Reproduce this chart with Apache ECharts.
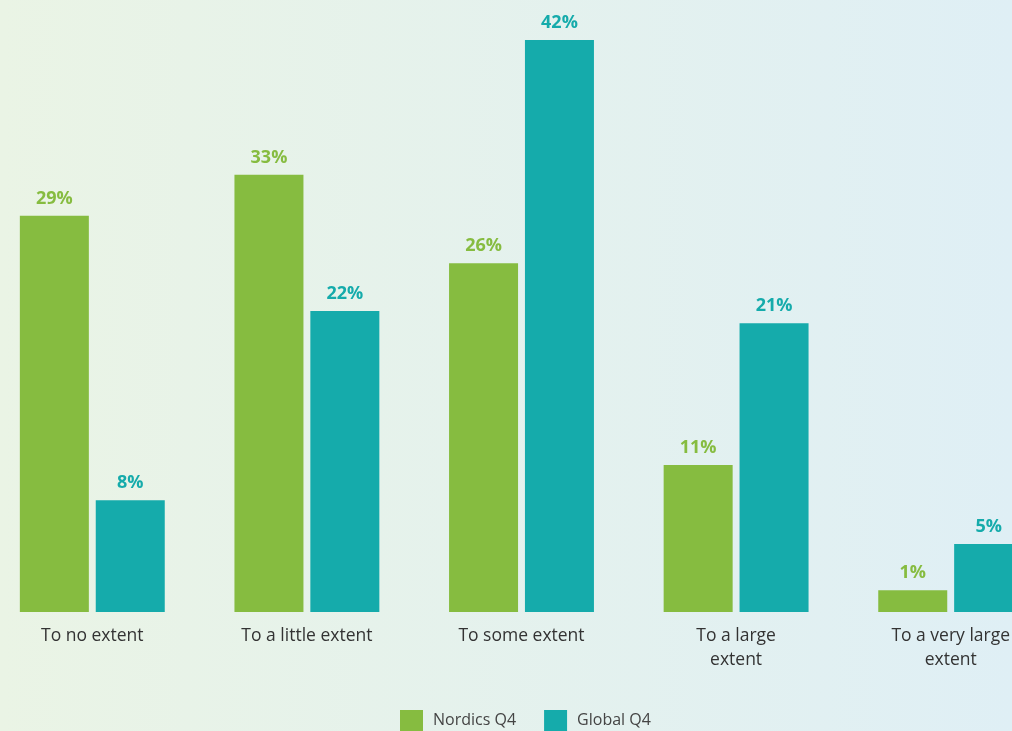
<!DOCTYPE html>
<html>
<head>
<meta charset="utf-8">
<title>Extent chart</title>
<script src="https://cdn.jsdelivr.net/npm/echarts@6/dist/echarts.min.js"></script>
<style>
  html, body { margin: 0; padding: 0; }
  #chart { width: 1012px; height: 731px; }
</style>
</head>
<body>
<div id="chart"></div>
<script>
// categories and values (bar heights, labels as printed)
const categories = ['To no extent', 'To a little extent', 'To some extent', 'To a large\nextent', 'To a very large\nextent']
const nordicsQ4 = [29.1, 32.1, 25.6, 10.8, 1.6]
const globalQ4 = [8.2, 22.1, 42, 21.2, 5]
const nordicsLabels = ['29%', '33%', '26%', '11%', '1%']
const globalLabels = ['8%', '22%', '42%', '21%', '5%']

const GREEN = '#86bc40'
const TEAL = '#15abab'
const FONT = 'Open Sans'

const chart = echarts.init(document.getElementById('chart'))

const labelFor = (texts, color) => ({
  show: true,
  position: 'top',
  distance: 8,
  color: color,
  fontFamily: FONT,
  fontWeight: 'bold',
  fontSize: 18,
  formatter: (p) => texts[p.dataIndex]
})

chart.setOption({
  backgroundColor: new echarts.graphic.LinearGradient(0, 0, 1, 0, [
    { offset: 0, color: '#eaf4e5' },
    { offset: 1, color: '#dfeff5' }
  ]),
  textStyle: { fontFamily: FONT },
  animation: false,
  legend: {
    top: 705,
    left: 395,
    itemWidth: 23,
    itemHeight: 21,
    itemGap: 28,
    icon: 'rect',
    textStyle: { fontFamily: FONT, fontSize: 16, color: '#444', padding: [0, 0, 0, 5] },
    data: ['Nordics Q4', 'Global Q4']
  },
  // the plot runs past the right edge, the last pair is cut off like in the source
  grid: {
    left: -15,
    width: 1073,
    top: 40,
    bottom: 119,
    containLabel: false,
    outerBoundsMode: 'none'
  },
  xAxis: {
    type: 'category',
    data: categories,
    axisLine: { show: false },
    axisTick: { show: false },
    axisLabel: {
      margin: 12,
      fontFamily: FONT,
      fontSize: 17.5,
      color: '#333',
      lineHeight: 24,
      interval: 0
    }
  },
  yAxis: {
    type: 'value',
    min: 0,
    max: 42,
    show: false,
    splitLine: { show: false }
  },
  series: [
    {
      name: 'Nordics Q4',
      type: 'bar',
      data: nordicsQ4,
      barWidth: 69,
      barGap: '10%',
      itemStyle: { color: GREEN },
      label: labelFor(nordicsLabels, GREEN)
    },
    {
      name: 'Global Q4',
      type: 'bar',
      data: globalQ4,
      barWidth: 69,
      itemStyle: { color: TEAL },
      label: labelFor(globalLabels, TEAL)
    }
  ]
})

window.addEventListener('resize', () => {
  chart.resize()
})
</script>
</body>
</html>
